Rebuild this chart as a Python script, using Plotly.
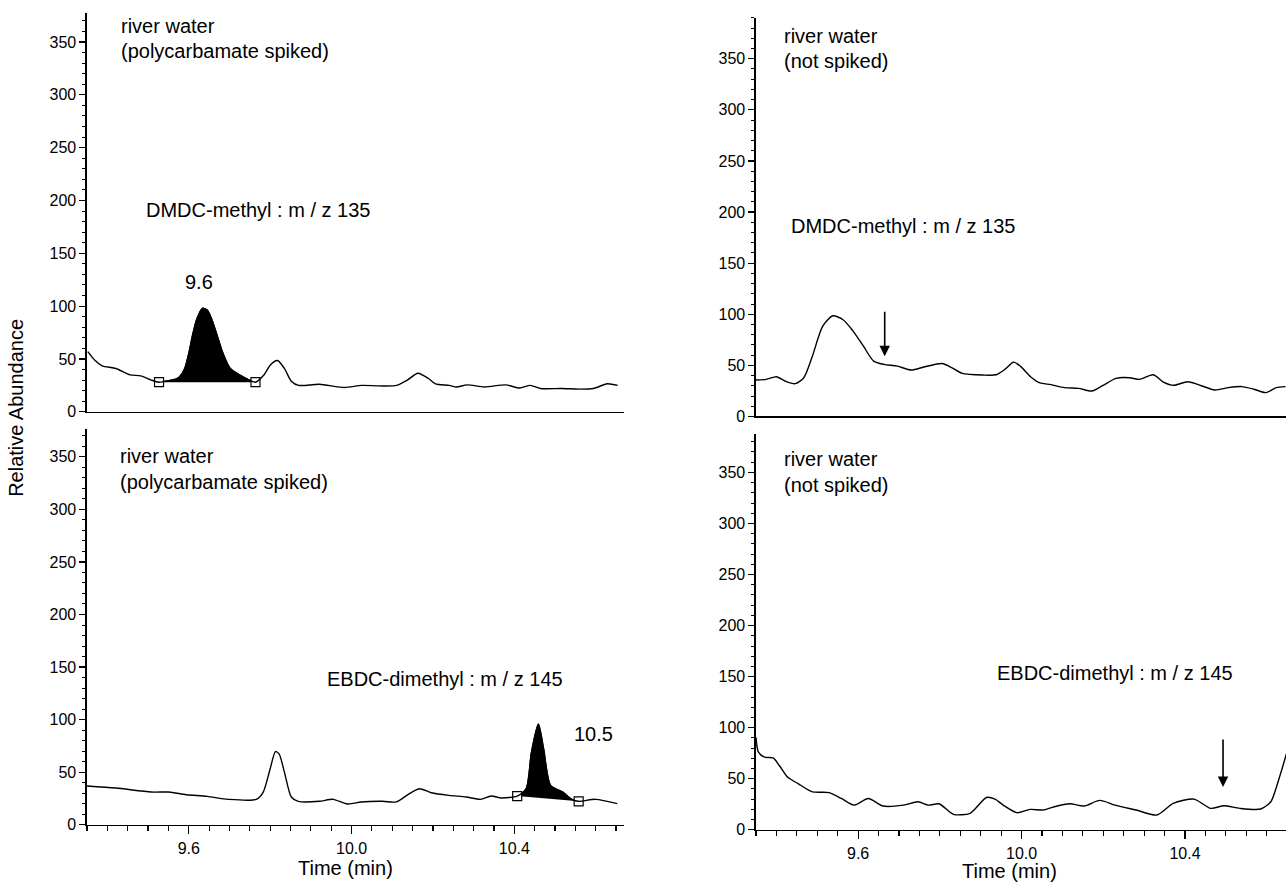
import numpy as np
import plotly.graph_objects as go

W, H = 1286, 891

# ---------------- data (time in min, relative abundance) ----------------
# top-left: river water (polycarbamate spiked), DMDC-methyl m/z 135
tl_t = [9.352, 9.370, 9.387, 9.421, 9.456, 9.482, 9.508, 9.527, 9.551, 9.568, 9.577, 9.590,
        9.601, 9.609, 9.620, 9.634, 9.646, 9.656, 9.670, 9.683, 9.702, 9.727, 9.749, 9.764,
        9.784, 9.801, 9.818, 9.835, 9.852, 9.870, 9.921, 9.982, 10.025, 10.068, 10.111, 10.137,
        10.163, 10.189, 10.206, 10.240, 10.258, 10.284, 10.327, 10.379, 10.413, 10.439, 10.464,
        10.516, 10.559, 10.594, 10.628, 10.654]
tl_y = [57, 48.5, 43.5, 41, 35, 34, 30, 28, 29.5, 31, 33, 41,
        57, 72, 88, 98, 96, 88, 72, 56.5, 41, 34.5, 30, 28,
        34.5, 44.5, 48.5, 41, 29, 25, 26, 23, 25, 24.5, 25, 30,
        36.5, 31.5, 26.5, 25, 23.5, 25.5, 23.5, 25.5, 22.5, 25, 22,
        22, 21.5, 22, 26.5, 25]
tl_mark_t = [9.527, 9.764]
tl_mark_y = [28, 28]

# top-right: river water (not spiked), DMDC-methyl m/z 135
tr_t = [9.350, 9.375, 9.400, 9.421, 9.446, 9.467, 9.488, 9.513, 9.538, 9.563, 9.588, 9.613,
        9.638, 9.663, 9.696, 9.730, 9.763, 9.805, 9.830, 9.855, 9.905, 9.938, 9.959, 9.980,
        9.997, 10.022, 10.043, 10.072, 10.105, 10.139, 10.172, 10.197, 10.231, 10.264, 10.289,
        10.322, 10.347, 10.372, 10.406, 10.431, 10.473, 10.506, 10.539, 10.569, 10.598, 10.623,
        10.646]
tr_y = [35.6, 36.3, 38.9, 34.7, 32.1, 37.9, 59, 88.1, 98.5, 94.6, 83.3, 68.7,
        54.1, 50.9, 49.2, 45.4, 48.6, 51.8, 47.6, 42.1, 40.5, 40.8, 46, 53.1,
        49.2, 38.9, 33, 31.1, 28.2, 27.5, 24.9, 29.8, 37.3, 37.9, 36.3,
        40.8, 33.7, 30.5, 34, 31.4, 25.9, 28.2, 29.2, 26.6, 23.3, 28.2,
        29.2]

# bottom-left: river water (polycarbamate spiked), EBDC-dimethyl m/z 145
bl_t = [9.350, 9.421, 9.508, 9.551, 9.594, 9.645, 9.697, 9.766, 9.783, 9.800, 9.813, 9.822,
        9.835, 9.852, 9.869, 9.921, 9.955, 9.990, 10.024, 10.076, 10.110, 10.136, 10.166,
        10.196, 10.239, 10.282, 10.317, 10.343, 10.368, 10.407, 10.429, 10.442, 10.459,
        10.472, 10.489, 10.519, 10.541, 10.558, 10.600, 10.653]
bl_y = [37, 35, 31.2, 31.2, 28.7, 27.1, 24.3, 24.3, 31.2, 53.3, 69.7, 67.5,
        50.2, 26.5, 22.4, 22.4, 24.3, 19.9, 21.8, 22.4, 21.8, 28.1, 34.4,
        30.6, 28.1, 26.5, 24.3, 27.4, 25.6, 27.4, 34.4, 69.1, 95.9,
        72.2, 37.5, 31.2, 24.3, 22.4, 24.3, 20.2]
bl_mark_t = [10.407, 10.558]
bl_mark_y = [27.4, 22.4]

# bottom-right: river water (not spiked), EBDC-dimethyl m/z 145
br_t = [9.350, 9.356, 9.371, 9.392, 9.407, 9.427, 9.453, 9.488, 9.529, 9.559, 9.590, 9.625,
        9.661, 9.711, 9.747, 9.772, 9.798, 9.833, 9.874, 9.914, 9.935, 9.955, 9.988, 10.021,
        10.052, 10.077, 10.118, 10.153, 10.191, 10.229, 10.280, 10.331, 10.371, 10.422,
        10.463, 10.495, 10.534, 10.585, 10.610, 10.630, 10.654]
br_y = [90.5, 76, 71.1, 70.5, 63, 51.7, 45.2, 37.2, 36.5, 30.7, 24.2, 30.7,
        23.3, 24.2, 27.5, 24.2, 25.5, 15.2, 16.2, 31.7, 30.1, 24.2, 16.8, 20,
        19.4, 22.3, 25.5, 23.3, 28.8, 24.2, 19.4, 14.5, 25.9, 30.1,
        21, 23.6, 21, 20.4, 27.5, 50.1, 82.4]

# arrows marking expected retention times in the blanks
tr_arrow = dict(t=9.665, tip=59, tail=104)
br_arrow = dict(t=10.493, tip=42, tail=90)

# ---------------- figure ----------------
fig = go.Figure()
LINE = dict(color="black", width=1.4, shape="spline", smoothing=0.7)

def add_chrom(t, y, xa, ya):
    fig.add_trace(go.Scatter(x=t, y=y, xaxis=xa, yaxis=ya, mode="lines",
                             line=LINE, hoverinfo="skip", showlegend=False))

def add_peak(t, y, mt, my, xa, ya):
    t = np.array(t); y = np.array(y)
    m = (t >= mt[0] - 1e-9) & (t <= mt[1] + 1e-9)
    fig.add_trace(go.Scatter(x=mt, y=my, xaxis=xa, yaxis=ya, mode="lines",
                             line=dict(width=0, color="black"), hoverinfo="skip",
                             showlegend=False))
    fig.add_trace(go.Scatter(x=t[m], y=y[m], xaxis=xa, yaxis=ya, mode="lines",
                             fill="tonexty", fillcolor="black",
                             line=dict(color="black", width=1.2, shape="spline", smoothing=0.7),
                             hoverinfo="skip", showlegend=False))
    fig.add_trace(go.Scatter(x=mt, y=my, xaxis=xa, yaxis=ya, mode="markers",
                             marker=dict(symbol="square", size=9, color="white",
                                         line=dict(color="black", width=1.2)),
                             hoverinfo="skip", showlegend=False))

add_peak(tl_t, tl_y, tl_mark_t, tl_mark_y, "x", "y")
add_chrom(tl_t, tl_y, "x", "y")
add_chrom(tr_t, tr_y, "x2", "y2")
add_peak(bl_t, bl_y, bl_mark_t, bl_mark_y, "x3", "y3")
add_chrom(bl_t, bl_y, "x3", "y3")
add_chrom(br_t, br_y, "x4", "y4")

FONT = "Liberation Sans, Arial, Helvetica, sans-serif"

def xdom(a, b):
    return [a / W, b / W]

def ydom(bottom, top):
    return [1 - bottom / H, 1 - top / H]

common = dict(showline=True, linecolor="black", linewidth=1.6, showgrid=False,
              zeroline=False, tickcolor="black", tickwidth=1.2,
              tickfont=dict(family=FONT, size=16, color="black"))

def yax(dom, top, anchor):
    return dict(common, domain=dom, range=[0, top], anchor=anchor, ticks="outside",
                ticklen=6, tickmode="linear", tick0=0, dtick=50,
                minor=dict(ticks="outside", ticklen=3, tickmode="linear", tick0=0, dtick=10,
                           tickcolor="black", tickwidth=1))

def xax_top(dom, rng, anchor):
    return dict(common, domain=dom, range=rng, anchor=anchor, ticks="",
                showticklabels=False)

def xax_bot(dom, rng, anchor):
    return dict(common, domain=dom, range=rng, anchor=anchor, ticks="outside",
                ticklen=8, tickmode="linear", tick0=9.6, dtick=0.4, tickformat=".1f",
                minor=dict(ticks="outside", ticklen=5, tickmode="linear", tick0=9.35,
                           dtick=0.05, tickcolor="black", tickwidth=1.2))

L_RANGE = [9.35, 9.35 + 537 / 407]
R_RANGE = [9.35, 9.35 + 530 / 408.6]

fig.update_layout(
    width=W, height=H, margin=dict(l=0, r=0, t=0, b=0),
    paper_bgcolor="white", plot_bgcolor="white", showlegend=False,
    font=dict(family=FONT, color="black"),
    xaxis=xax_top(xdom(87, 624), L_RANGE, "y"),
    yaxis=yax(ydom(416, 13), 377.5, "x"),
    xaxis2=xax_top(xdom(756, 1286), R_RANGE, "y2"),
    yaxis2=yax(ydom(420.7, 18), 390, "x2"),
    xaxis3=xax_bot(xdom(87, 624), L_RANGE, "y3"),
    yaxis3=yax(ydom(833.3, 433), 376.7, "x3"),
    xaxis4=xax_bot(xdom(756, 1286), R_RANGE, "y4"),
    yaxis4=yax(ydom(838.3, 438), 388, "x4"),
)

TXT = 20

def txt(text, px, py, anchor="left", size=TXT, angle=0):
    fig.add_annotation(text=text, x=px / W, y=1 - py / H, xref="paper", yref="paper",
                       xanchor=anchor, yanchor="middle", showarrow=False, textangle=angle,
                       font=dict(family=FONT, size=size, color="black"))

# panel texts
txt("river water", 119, 26)
txt("(polycarbamate spiked)", 119, 52)
txt("DMDC-methyl : m / z 135", 144, 212)
txt("9.6", 199, 285, anchor="center")

txt("river water", 782, 36)
txt("(not spiked)", 782, 62)
txt("DMDC-methyl : m / z 135", 789, 228)

txt("river water", 118, 461)
txt("(polycarbamate spiked)", 118, 487)
txt("EBDC-dimethyl : m / z 145", 325, 686)
txt("10.5", 593, 741, anchor="center")

txt("river water", 782, 464)
txt("(not spiked)", 782, 490)
txt("EBDC-dimethyl : m / z 145", 995, 680)

txt("Time (min)", 345, 877, anchor="center")
txt("Time (min)", 1009, 880, anchor="center")
txt("Relative Abundance", 16, 412, anchor="center", angle=-90)

# arrows
for a, xr, yr in [(tr_arrow, "x2", "y2"), (br_arrow, "x4", "y4")]:
    fig.add_annotation(x=a["t"], y=a["tip"], ax=a["t"], ay=a["tail"], xref=xr, yref=yr,
                       axref=xr, ayref=yr, showarrow=True, arrowhead=2, arrowsize=1.3,
                       arrowwidth=1.6, arrowcolor="black", text="")

fig.write_html(
    "out.html",
    config={"displayModeBar": False, "staticPlot": True},
    post_script=(
        "var de=document.documentElement, b=document.body;"
        "de.style.margin='0';de.style.padding='0';de.style.overflow='hidden';"
        "de.style.height='891px';"
        "b.style.margin='0';b.style.padding='0';b.style.overflow='hidden';"
        "b.style.height='891px';"
    ),
)
